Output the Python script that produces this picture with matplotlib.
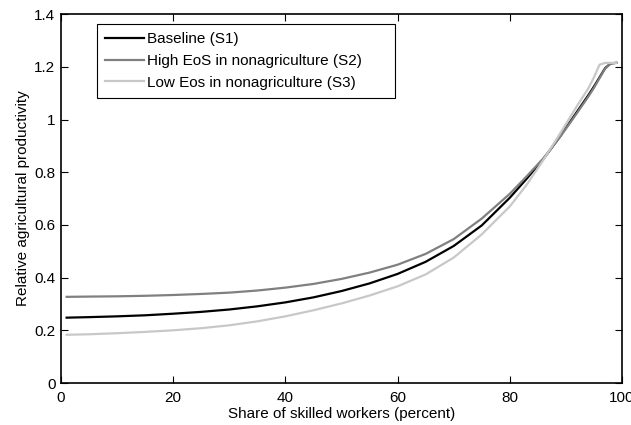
import matplotlib
matplotlib.use("Agg")
import matplotlib.pyplot as plt
from matplotlib.ticker import FormatStrFormatter

plt.rcParams['font.family'] = ['Liberation Sans', 'DejaVu Sans']

# share of skilled workers (percent)
share = [1, 5, 10, 15, 20, 25, 30, 35, 40, 45, 50, 55, 60, 65, 70, 75,
         80, 83, 86, 89, 92, 94, 95, 96, 97, 98, 99]

# relative agricultural productivity
baseline_s1 = [0.248, 0.250, 0.253, 0.257, 0.263, 0.270, 0.279, 0.291, 0.306,
               0.325, 0.349, 0.378, 0.414, 0.460, 0.520, 0.598, 0.703, 0.775,
               0.850, 0.937, 1.030, 1.092, 1.125, 1.160, 1.195, 1.213, 1.215]
high_eos_s2 = [0.327, 0.328, 0.329, 0.331, 0.334, 0.338, 0.343, 0.351, 0.362,
               0.376, 0.395, 0.419, 0.449, 0.490, 0.546, 0.624, 0.718, 0.784,
               0.853, 0.935, 1.025, 1.087, 1.120, 1.157, 1.193, 1.213, 1.215]
low_eos_s3 = [0.183, 0.185, 0.189, 0.194, 0.200, 0.208, 0.219, 0.234, 0.253,
              0.276, 0.302, 0.332, 0.367, 0.412, 0.476, 0.564, 0.670, 0.752,
              0.847, 0.948, 1.052, 1.118, 1.160, 1.208, 1.215, 1.215, 1.215]

labels = ['Baseline (S1)', 'High EoS in nonagriculture (S2)',
          'Low Eos in nonagriculture (S3)']
colors = ['#000000', '#808080', '#c8c8c8']

fig = plt.figure(figsize=(6.31, 4.25), dpi=100)
ax = fig.add_axes([0.0967, 0.0988, 0.889, 0.868])

for ys, lab, c in zip([baseline_s1, high_eos_s2, low_eos_s3], labels, colors):
    ax.plot(share, ys, color=c, lw=1.6, label=lab)

ax.set_xlim(0, 100)
ax.set_ylim(0, 1.4)
ax.set_xticks([0, 20, 40, 60, 80, 100])
ax.set_yticks([0, 0.2, 0.4, 0.6, 0.8, 1.0, 1.2, 1.4])
ax.yaxis.set_major_formatter(FormatStrFormatter('%g'))
ax.tick_params(direction='in', length=5, width=0.8, top=True, right=True,
               labelsize=11, pad=4)
ax.tick_params(axis='x', pad=6)
for sp in ax.spines.values():
    sp.set_linewidth(1.2)

ax.set_xlabel('Share of skilled workers (percent)', fontsize=11, labelpad=1)
ax.set_ylabel('Relative agricultural productivity', fontsize=11, labelpad=3)

leg = ax.legend(loc='upper left', bbox_to_anchor=(0.064, 0.5, 0.531, 0.473),
                mode='expand', borderaxespad=0, fontsize=11, fancybox=False,
                edgecolor='black', framealpha=1, handlelength=2.5,
                handletextpad=0.25, labelspacing=0.5, borderpad=0.55)
leg.get_frame().set_linewidth(0.8)

fig.savefig('out.png', dpi=100)
